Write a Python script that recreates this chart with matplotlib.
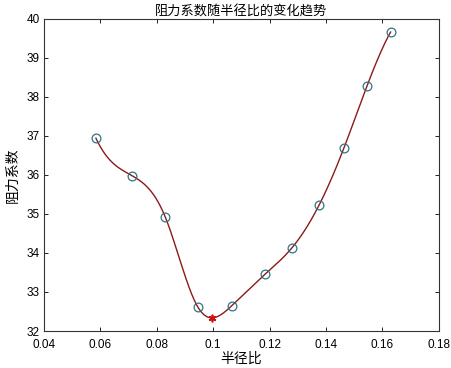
import numpy as np
import matplotlib
matplotlib.use("Agg")
import matplotlib.pyplot as plt

plt.rcParams['font.family'] = ['Liberation Sans', 'Noto Sans CJK SC', 'DejaVu Sans']

ratio = [0.0584, 0.0712, 0.0830, 0.0945, 0.1066, 0.1183, 0.1279, 0.1375, 0.1463, 0.1546, 0.1629]
drag = [36.94, 35.98, 34.92, 32.62, 32.65, 33.45, 34.13, 35.22, 36.68, 38.29, 39.66]
xticks = [0.04, 0.06, 0.08, 0.1, 0.12, 0.14, 0.16, 0.18]
xticklabels = ['0.04', '0.06', '0.08', '0.1', '0.12', '0.14', '0.16', '0.18']
yticks = [32, 33, 34, 35, 36, 37, 38, 39, 40]


def spline_nak(x, y, xq):
    x = np.asarray(x, float); y = np.asarray(y, float)
    n = len(x)
    h = np.diff(x)
    A = np.zeros((n, n)); b = np.zeros(n)
    A[0, 0] = h[1]; A[0, 1] = -(h[0] + h[1]); A[0, 2] = h[0]
    A[-1, -3] = h[-1]; A[-1, -2] = -(h[-2] + h[-1]); A[-1, -1] = h[-2]
    for i in range(1, n - 1):
        A[i, i - 1] = h[i - 1]
        A[i, i] = 2 * (h[i - 1] + h[i])
        A[i, i + 1] = h[i]
        b[i] = 6 * ((y[i + 1] - y[i]) / h[i] - (y[i] - y[i - 1]) / h[i - 1])
    M = np.linalg.solve(A, b)
    idx = np.clip(np.searchsorted(x, xq) - 1, 0, n - 2)
    x0 = x[idx]; x1 = x[idx + 1]; hh = x1 - x0
    t1 = x1 - xq; t0 = xq - x0
    return (M[idx] * t1 ** 3 / (6 * hh) + M[idx + 1] * t0 ** 3 / (6 * hh)
            + (y[idx] / hh - M[idx] * hh / 6) * t1
            + (y[idx + 1] / hh - M[idx + 1] * hh / 6) * t0)


xs = np.linspace(ratio[0], ratio[-1], 800)
ys = spline_nak(ratio, drag, xs)
imin = np.argmin(ys)

cjk = ['Noto Sans CJK SC', 'DejaVu Sans']
fig = plt.figure(figsize=(4.51, 3.68), dpi=100)
ax = fig.add_axes([0.0976, 0.1005, 0.8754, 0.8485])
ax.plot(xs, ys, color='#8b1a1a', lw=1.0)
ax.plot(ratio, drag, 'o', mfc='none', mec='#2f7585', ms=6.3, mew=0.9)
ax.plot(xs[imin], ys[imin], marker=(6, 2, 0), color='#d01010', ms=5.5, mew=1.2, ls='none')

ax.set_xlim(0.04, 0.18)
ax.set_ylim(32, 40)
ax.set_xticks(xticks)
ax.set_xticklabels(xticklabels)
ax.set_yticks(yticks)
ax.tick_params(direction='in', top=True, right=True, labelsize=8.5, length=3, width=0.6)
ax.tick_params(axis='x', pad=5.5)
ax.tick_params(axis='y', pad=3)
for s in ax.spines.values():
    s.set_linewidth(0.8)
    s.set_color('#333333')
ax.set_title('阻力系数随半径比的变化趋势', fontsize=9.5, pad=2, family=cjk)
ax.set_xlabel('半径比', fontsize=10, labelpad=1, family=cjk)
ax.set_ylabel('阻力系数', fontsize=10, labelpad=5, family=cjk)
fig.savefig('out.png', dpi=100)
